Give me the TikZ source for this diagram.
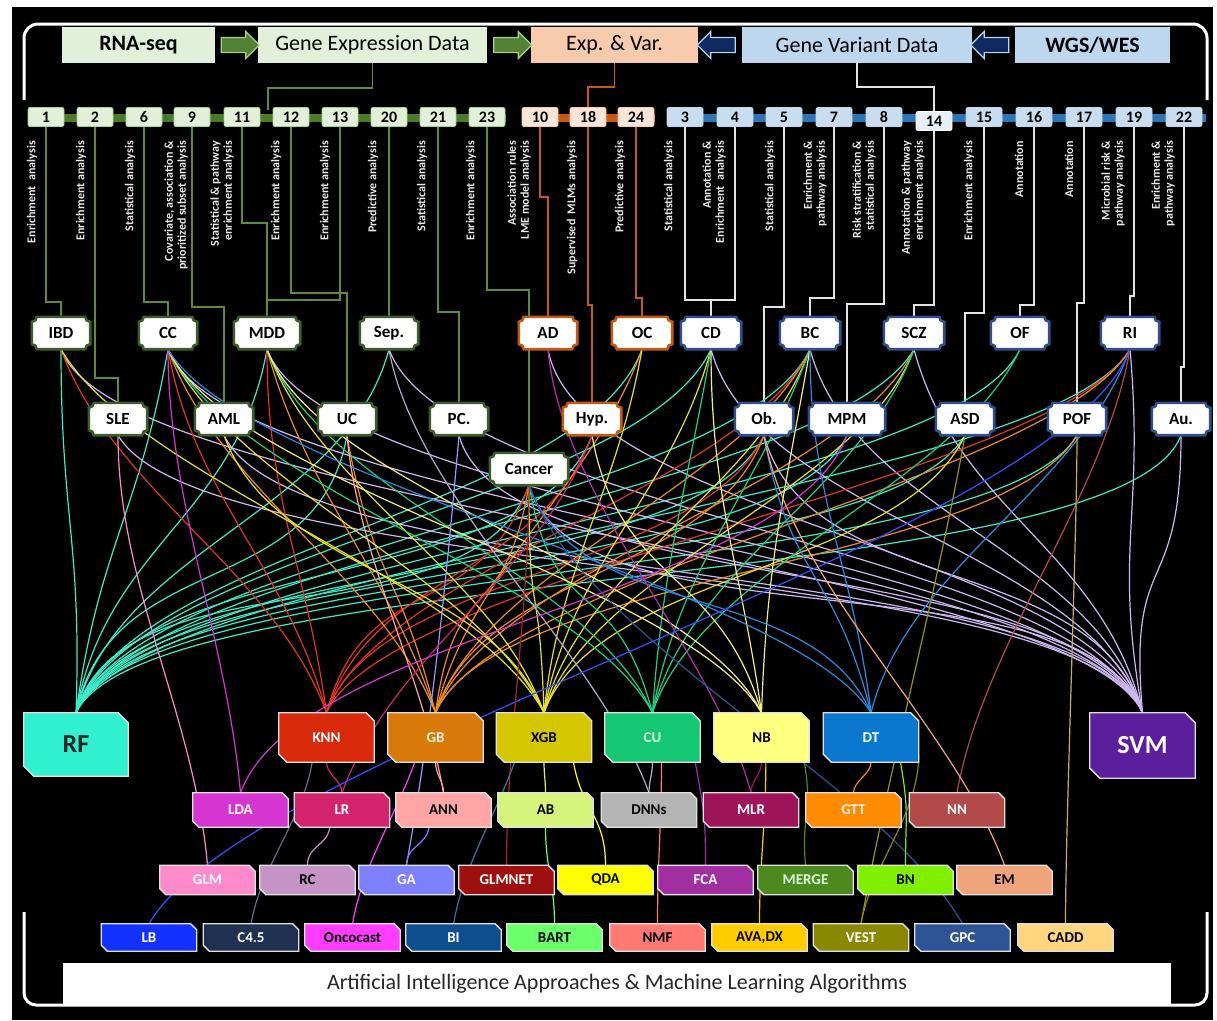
\documentclass[tikz,border=0pt]{standalone}
\usepackage{fontspec}
\setmainfont{Carlito}
\usetikzlibrary{shapes.arrows,calc}
\pgfdeclarelayer{bgl}\pgfdeclarelayer{lnl}\pgfdeclarelayer{shl}
\pgfsetlayers{bgl,lnl,shl,main}
% header / group colours
\definecolor{cGfill}{HTML}{E2F0D9}
\definecolor{cOfill}{HTML}{F8CBAD}
\definecolor{cBfill}{HTML}{BDD7EE}
\definecolor{cGnum}{HTML}{E2F0D9}
\definecolor{cOnum}{HTML}{FBE5D6}
\definecolor{cBnum}{HTML}{C9DDF0}
\definecolor{cGbar}{HTML}{4A7A2A}
\definecolor{cObar}{HTML}{C55A11}
\definecolor{cBbar}{HTML}{2E75B6}
\definecolor{cGA}{HTML}{548235}
\definecolor{cGAl}{HTML}{A9D18E}
\definecolor{cNA}{HTML}{0F2A60}
\definecolor{cNAl}{HTML}{BDD7EE}
\definecolor{cGL}{HTML}{5E8C3A}
\definecolor{cOL}{HTML}{C55A11}
\definecolor{cWL}{HTML}{E4E4E4}
\definecolor{cPG}{HTML}{3B5E2B}
\definecolor{cPO}{HTML}{C55A11}
\definecolor{cPB}{HTML}{2F4F8F}
% curve colours
\definecolor{crf}{HTML}{3DEBC8}
\definecolor{csvm}{HTML}{CDB8F0}
\definecolor{cknn}{HTML}{E3351F}
\definecolor{cgb}{HTML}{EE8A25}
\definecolor{cxgb}{HTML}{E8E030}
\definecolor{ccu}{HTML}{1FD080}
\definecolor{cnb}{HTML}{F5EE80}
\definecolor{cdt}{HTML}{2A8BE0}
% algorithm fills
\definecolor{fRF}{HTML}{30F0D0}
\definecolor{fKNN}{HTML}{DA2A0C}
\definecolor{fGB}{HTML}{D8790A}
\definecolor{fXGB}{HTML}{D4C700}
\definecolor{fCU}{HTML}{14C873}
\definecolor{fNB}{HTML}{FFFF80}
\definecolor{fDT}{HTML}{0B78D0}
\definecolor{fSVM}{HTML}{5B1E9C}
\definecolor{fLDA}{HTML}{D535D0}
\definecolor{fLR}{HTML}{D4246E}
\definecolor{fANN}{HTML}{FFA5A5}
\definecolor{fAB}{HTML}{D6F47C}
\definecolor{fDNN}{HTML}{B4B4B4}
\definecolor{fMLR}{HTML}{9E1458}
\definecolor{fGTT}{HTML}{FF8C00}
\definecolor{fNN}{HTML}{B24A4A}
\definecolor{fGLM}{HTML}{FF8ACB}
\definecolor{fRC}{HTML}{C593C5}
\definecolor{fGA}{HTML}{7F80FF}
\definecolor{fGLMNET}{HTML}{9E1010}
\definecolor{fQDA}{HTML}{FFFF00}
\definecolor{fFCA}{HTML}{A22FA2}
\definecolor{fMERGE}{HTML}{4C8A1F}
\definecolor{fBN}{HTML}{80F000}
\definecolor{fEM}{HTML}{F0A47C}
\definecolor{fLB}{HTML}{1432FF}
\definecolor{fC45}{HTML}{1F3050}
\definecolor{fOnco}{HTML}{FF3DFF}
\definecolor{fBI}{HTML}{0C4E8E}
\definecolor{fBART}{HTML}{6CFF6C}
\definecolor{fNMF}{HTML}{FF7A72}
\definecolor{fAVA}{HTML}{FFCC00}
\definecolor{fVEST}{HTML}{8A8700}
\definecolor{fGPC}{HTML}{2F5496}
\definecolor{fCADD}{HTML}{FFD580}
\tikzset{
 hdr/.style={inner sep=0pt, minimum height=36pt, text=black, font=\fontsize{22}{24}\selectfont},
 numbox/.style={rounded corners=2pt, minimum width=36pt, minimum height=19pt, inner sep=0pt, font=\bfseries\fontsize{16}{17}\selectfont, line width=0.8pt, text=black},
 lbl/.style={rotate=90, anchor=east, align=right, text=white!92!black, inner sep=0pt, font=\bfseries\fontsize{12}{13}\selectfont},
 plqtxt/.style={inner sep=0pt, minimum height=32pt, text=black, font=\bfseries\fontsize{17}{18}\selectfont},
 plqedge/.style={fill=white, line width=2.6pt},
 algtxt/.style={inner sep=0pt, font=\bfseries\fontsize{15}{16}\selectfont},
 algedge/.style={draw=white!88!black, line width=1.3pt},
 gline/.style={draw=cGL, line width=1.5pt},
 oline/.style={draw=cOL, line width=1.5pt},
 wline/.style={draw=cWL, line width=1.5pt},
 cv/.style={line width=1.2pt},
 brk/.style={draw=white, line width=3pt},
 barline/.style={line width=8pt},
 blockarrow/.style={single arrow, line width=1.2pt, minimum height=38pt, inner sep=7pt, single arrow head extend=6pt},
}
\def\chmf{7pt}
\newcommand\alg[8]{%
 \node[algtxt,text=#7,minimum width=#4pt,minimum height=#5pt] (#1) at (#2,#3) {#8};
 \begin{pgfonlayer}{shl}
 \draw[algedge,fill=#6] (#1.north west) -- ([xshift=-\chmf]#1.north east) -- ([yshift=-\chmf]#1.north east) -- (#1.south east) -- ([xshift=\chmf]#1.south west) -- ([yshift=\chmf]#1.south west) -- cycle;
 \end{pgfonlayer}}
\newcommand\plq[6]{%
 \node[plqtxt,minimum width=#4pt] (#1) at (#2,#3) {#6};
 \begin{pgfonlayer}{shl}
 \draw[plqedge,draw=#5] ([xshift=5pt]#1.north west) -- ([xshift=-5pt]#1.north east) arc[start angle=180,end angle=270,radius=5pt] -- ([yshift=5pt]#1.south east) arc[start angle=90,end angle=180,radius=5pt] -- ([xshift=5pt]#1.south west) arc[start angle=0,end angle=90,radius=5pt] -- ([yshift=-5pt]#1.north west) arc[start angle=270,end angle=360,radius=5pt] -- cycle;
 \end{pgfonlayer}}
% curve: colour, start anchor, out angle, in angle, end anchor, control distance
\newcommand\cl[6]{\draw[cv,draw=#1] (#2) .. controls ([shift={(#3:#6)}]#2) and ([shift={(#4:#6)}]#5) .. (#5);}
\begin{document}
\begin{tikzpicture}[x=1pt,y=-1pt]
\useasboundingbox (0,0) rectangle (1217,1020);
\begin{pgfonlayer}{bgl}
\fill[white] (0,0) rectangle (1217,1020);
\fill[black] (12,7) rectangle (1213,1020);
\end{pgfonlayer}
% brackets
\draw[brk, rounded corners=14pt] (24,100) -- (24,24) -- (1207,24) -- (1207,100);
\draw[brk, rounded corners=12pt] (24,912) -- (24,1005) -- (1207,1005) -- (1207,912);
% header
\node[hdr, fill=cGfill, minimum width=153pt] (rna) at (138.5,45) {\bfseries RNA-seq};
\node[hdr, fill=cGfill, minimum width=229pt] (ged) at (372.5,45) {Gene Expression Data};
\node[hdr, fill=cOfill, minimum width=167pt] (ev) at (614.5,45) {Exp. \& Var.};
\node[hdr, fill=cBfill, minimum width=230pt] (gvd) at (857,45) {Gene Variant Data};
\node[hdr, fill=cBfill, minimum width=155pt] (wgs) at (1092.5,45) {\bfseries WGS/WES};
\node[blockarrow, fill=cGA, draw=cGAl] (a1) at (236.5,45) {};
\node[blockarrow, fill=cGA, draw=cGAl] (a2) at (509,45) {};
\node[blockarrow, fill=cNA, draw=cNAl, shape border rotate=180] (a3) at (720,45) {};
\node[blockarrow, fill=cNA, draw=cNAl, shape border rotate=180] (a4) at (993.5,45) {};
% bars
\begin{pgfonlayer}{lnl}
\draw[barline, cGbar] (28,118) -- (506,118);
\draw[barline, cObar] (522,118) -- (655,118);
\draw[barline, cBbar] (667,118) -- (1206,118);
\end{pgfonlayer}
% number boxes + labels
\foreach \n/\x/\t/\d in {1/46/{Enrichment\ \ analysis}/14, 2/95/{Enrichment analysis}/14, 6/144/{Statistical analysis}/14, 9/192/{Covariate, association \&\\prioritized subset analysis}/16, 11/242/{Statistical \& pathway\\enrichment analysis}/20, 12/291/{Enrichment analysis}/15, 13/340/{Enrichment analysis}/15, 20/389/{Predictive analysis}/16, 21/438/{Statistical analysis}/16, 23/487/{Enrichment analysis}/16}{
 \node[numbox, fill=cGnum, draw=cGAl] (n\n) at (\x,117) {\n};
 \node[lbl] (l\n) at ({\x-\d},141) {\t};
}
\foreach \n/\x/\t/\d in {10/540/{Association rules\\LME model analysis}/21, 18/588/{Supervised\ \ MLMs analysis}/16, 24/636/{Predictive analysis}/16}{
 \node[numbox, fill=cOnum, draw=cOfill] (n\n) at (\x,117) {\n};
 \node[lbl] (l\n) at ({\x-\d},141) {\t};
}
\foreach \n/\x/\t/\d in {3/685/{Statistical analysis}/16, 4/735/{Annotation \&\\Enrichment\ \ analysis}/21, 5/784/{Statistical analysis}/14, 7/834/{Enrichment \&\\pathway analysis}/19, 8/884/{Risk stratification \&\\statistical analysis}/20, 15/984/{Enrichment analysis}/15, 16/1034/{Annotation}/15, 17/1084/{Annotation}/15, 19/1134/{Microbial risk \&\\pathway analysis}/21, 22/1184/{Enrichment \&\\pathway analysis}/21}{
 \node[numbox, fill=cBnum, draw=cBfill] (n\n) at (\x,117) {\n};
 \node[lbl] (l\n) at ({\x-\d},141) {\t};
}
\node[numbox, fill=white!55!cBnum, draw=white] (n14) at (934,121) {14};
\node[lbl] (l14) at (913,141) {Annotation \& pathway\\enrichment analysis};
% diseases
\plq{IBD}{61}{333}{58}{cPG}{IBD}
\plq{CC}{168}{333}{58}{cPG}{CC}
\plq{MDD}{267}{333}{66}{cPG}{MDD}
\plq{Sep}{389}{333}{58}{cPG}{Sep.}
\plq{AD}{548}{333}{58}{cPO}{AD}
\plq{OC}{642}{333}{60}{cPO}{OC}
\plq{CD}{711}{333}{60}{cPB}{CD}
\plq{BC}{810}{333}{60}{cPB}{BC}
\plq{SCZ}{914}{333}{60}{cPB}{SCZ}
\plq{OF}{1020}{333}{58}{cPB}{OF}
\plq{RI}{1130}{333}{58}{cPB}{RI}
\plq{SLE}{118}{419}{58}{cPG}{SLE}
\plq{AML}{224}{419}{58}{cPG}{AML}
\plq{UC}{347}{419}{58}{cPG}{UC}
\plq{PC}{459}{419}{58}{cPG}{PC.}
\plq{Hyp}{592}{419}{58}{cPO}{Hyp.}
\plq{Ob}{764}{419}{58}{cPB}{Ob.}
\plq{MPM}{847}{419}{76}{cPB}{MPM}
\plq{ASD}{965}{419}{58}{cPB}{ASD}
\plq{POF}{1077}{419}{58}{cPB}{POF}
\plq{Au}{1181}{419}{58}{cPB}{Au.}
\plq{Cancer}{529}{469}{78}{cPG}{Cancer}
% algorithms
\def\chmf{10pt}
\alg{RF}{76}{744.5}{104}{63}{fRF}{black!85}{\fontsize{26}{28}\selectfont RF}
\alg{SVM}{1142.5}{745.5}{105}{65}{fSVM}{white}{\fontsize{26}{28}\selectfont SVM}
\def\chmf{8pt}
\alg{KNN}{326.5}{737.5}{95}{49}{fKNN}{white}{KNN}
\alg{GB}{435.5}{737.5}{95}{49}{fGB}{white!90!orange}{GB}
\alg{XGB}{544}{737.5}{95}{49}{fXGB}{black}{XGB}
\alg{CU}{652.5}{737.5}{95}{49}{fCU}{white!90!green}{CU}
\alg{NB}{761.5}{737.5}{95}{49}{fNB}{black}{NB}
\alg{DT}{871}{737.5}{95}{49}{fDT}{white}{DT}
\def\chmf{6pt}
\alg{LDA}{240.5}{810}{95}{34}{fLDA}{white}{LDA}
\alg{LR}{342}{810}{95}{34}{fLR}{white}{LR}
\alg{ANN}{443.5}{810}{95}{34}{fANN}{black}{ANN}
\alg{AB}{545.5}{810}{95}{34}{fAB}{black}{AB}
\alg{DNNs}{649}{810}{95}{34}{fDNN}{black}{DNNs}
\alg{MLR}{751}{810}{95}{34}{fMLR}{white}{MLR}
\alg{GTT}{853.5}{810}{95}{34}{fGTT}{white!90!orange}{GTT}
\alg{NN}{957}{810}{95}{34}{fNN}{white}{NN}
\alg{GLM}{207.5}{880}{95}{29}{fGLM}{white}{GLM}
\alg{RC}{307.5}{880}{95}{29}{fRC}{black}{RC}
\alg{GA}{406.5}{880}{95}{29}{fGA}{white}{GA}
\alg{GLMNET}{506.5}{880}{95}{29}{fGLMNET}{white}{GLMNET}
\alg{QDA}{605.5}{880}{95}{29}{fQDA}{black}{QDA}
\alg{FCA}{705.5}{880}{95}{29}{fFCA}{white}{FCA}
\alg{MERGE}{805.5}{880}{95}{29}{fMERGE}{white!85!green}{MERGE}
\alg{BN}{905.5}{880}{95}{29}{fBN}{black}{BN}
\alg{EM}{1004.5}{880}{95}{29}{fEM}{black}{EM}
\alg{LB}{149}{937.5}{95}{27}{fLB}{white}{LB}
\alg{C45}{251}{937.5}{95}{27}{fC45}{white}{C4.5}
\alg{Onco}{352.5}{937.5}{95}{27}{fOnco}{black}{Oncocast}
\alg{BI}{453.5}{937.5}{95}{27}{fBI}{white}{BI}
\alg{BART}{554.5}{937.5}{95}{27}{fBART}{black}{BART}
\alg{NMF}{657.5}{937.5}{95}{27}{fNMF}{black}{NMF}
\alg{AVA}{759.5}{937.5}{95}{27}{fAVA}{black}{AVA,DX}
\alg{VEST}{861}{937.5}{95}{27}{fVEST}{white}{VEST}
\alg{GPC}{962.5}{937.5}{95}{27}{fGPC}{white}{GPC}
\alg{CADD}{1065.5}{937.5}{95}{27}{fCADD}{black}{CADD}
% bottom label
\node[fill=white, minimum width=1108pt, minimum height=41pt, inner sep=0pt, text=black!85, font=\fontsize{22}{24}\selectfont] (ai) at (617,983.5) {Artificial Intelligence Approaches \& Machine Learning Algorithms};
% connectors
\begin{pgfonlayer}{lnl}
\coordinate (gj) at (268,110);
\draw[gline] (ged.south) -- ++(0,25) -| (gj);
\draw[oline] (ev.south) -- ++(0,24) -| (n18.north);
\draw[wline] (gvd.south) -- ++(0,24) -| (n14.north);
\draw[gline] (n1.south) |- (61,302) -- (IBD.north);
\draw[gline] (n2.south) |- (118,378) -- (SLE.north);
\draw[gline] (n6.south) |- (168,302) -- (CC.north);
\draw[gline] (n9.south) |- (224,307) -- (AML.north);
\draw[gline] (n11.south) |- (267,223) -- (MDD.north);
\draw[gline] (n12.south) |- (347,293) -- (UC.north);
\draw[gline] (n13.south) |- (267,300);
\draw[gline] (n20.south) -- (Sep.north);
\draw[gline] (n21.south) |- (459,312) -- (PC.north);
\draw[gline] (n23.south) |- (529,290) -- (Cancer.north);
\draw[oline] (n10.south) |- (548,197) -- (AD.north);
\draw[oline] (n18.south) |- (592,305) -- (Hyp.north);
\draw[oline] (n24.south) |- (642,298) -- (OC.north);
\draw[wline] (n3.south) |- (711,300) -- (CD.north);
\draw[wline] (n4.south) |- (711,300);
\draw[wline] (n5.south) |- (764,307) -- (Ob.north);
\draw[wline] (n7.south) |- (810,298) -- (BC.north);
\draw[wline] (n8.south) |- (847,304) -- (MPM.north);
\draw[wline] (n14.south) |- (914,305) -- (SCZ.north);
\draw[wline] (n15.south) |- (965,313) -- (ASD.north);
\draw[wline] (n16.south) |- (1020,305) -- (OF.north);
\draw[wline] (n17.south) |- (1077,303) -- (POF.north);
\draw[wline] (n19.south) |- (1130,296) -- (RI.north);
\draw[wline] (n22.south) |- (1181,367) -- (Au.north);
% disease -> algorithm curves
\foreach \src/\ou/\iu in {IBD/-90/88, CC/-100/82, MDD/-100/80, UC/-100/78, Sep/-105/76, Cancer/-110/74, Hyp/-110/73, OC/-110/72, CD/-115/71, Ob/-115/70, BC/-115/70, MPM/-115/69, SCZ/-120/68, OF/-115/68, ASD/-120/67, POF/-120/66, RI/-120/65, Au/-110/64}
 {\cl{crf}{\src.south}{\ou}{\iu}{RF.north}{170pt}}
\foreach \src/\ou/\iu in {IBD/-70/115, SLE/-60/113, CC/-70/112, AML/-65/112, MDD/-70/111, Sep/-70/110, PC/-75/110, Cancer/-75/109, AD/-80/108, CD/-75/108, Ob/-75/107, BC/-75/106, SCZ/-75/104, RI/-85/100, Au/-90/95}
 {\cl{csvm}{\src.south}{\ou}{\iu}{SVM.north}{170pt}}
\foreach \src/\ou/\iu in {IBD/-70/110, CC/-80/105, MDD/-90/98, Cancer/-110/75, Hyp/-110/72, Ob/-115/70, BC/-115/70, RI/-120/66}
 {\cl{cknn}{\src.south}{\ou}{\iu}{KNN.north}{150pt}}
\foreach \src/\ou/\iu in {CC/-70/112, MDD/-75/108, UC/-80/104, Cancer/-100/82, OC/-110/76, BC/-115/72, Ob/-110/72, SCZ/-115/70, POF/-120/67, RI/-120/66}
 {\cl{cgb}{\src.south}{\ou}{\iu}{GB.north}{150pt}}
\foreach \src/\ou/\iu in {IBD/-60/118, CC/-65/115, AML/-70/112, MDD/-70/110, Cancer/-90/92, OC/-100/84, CD/-105/80, BC/-110/76, SCZ/-110/72, ASD/-115/70}
 {\cl{cxgb}{\src.south}{\ou}{\iu}{XGB.north}{150pt}}
\foreach \src/\ou/\iu in {CC/-65/118, MDD/-70/114, Cancer/-80/105, CD/-100/86, BC/-110/80, SCZ/-110/76, OF/-115/72}
 {\cl{ccu}{\src.south}{\ou}{\iu}{CU.north}{150pt}}
\foreach \src/\ou/\iu in {CC/-65/120, MDD/-70/116, Hyp/-80/106, CD/-90/98, BC/-100/88}
 {\cl{cnb}{\src.south}{\ou}{\iu}{NB.north}{150pt}}
\foreach \src/\ou/\iu in {CC/-60/122, Cancer/-70/114, Ob/-80/104, BC/-90/97, RI/-110/76}
 {\cl{cdt}{\src.south}{\ou}{\iu}{DT.north}{150pt}}
% other disease links
\cl{fGLM}{SLE.south}{-90}{95}{GLM.north}{150pt}
\cl{fLDA}{CC.south}{-90}{95}{LDA.north}{150pt}
\cl{fANN}{UC.south}{-85}{100}{ANN.north}{120pt}
\cl{fGA!80!white}{PC.south}{-95}{80}{GA.north}{150pt}
\cl{csvm!70!gray}{Sep.south}{-80}{110}{DNNs.north}{150pt}
\cl{fLDA!85!black}{AD.south}{-85}{105}{MLR.north}{150pt}
\cl{fLR}{Hyp.south}{-110}{70}{LR.north}{150pt}
\cl{fLDA}{MPM.south}{-110}{70}{LDA.north}{170pt}
\cl{fNN}{RI.south}{-100}{80}{NN.north}{150pt}
\cl{fLB!85!white}{RI.south}{-110}{60}{LB.north}{200pt}
\cl{fCADD!80!black}{POF.south}{-90}{90}{CADD.north}{100pt}
\cl{fEM}{Ob.south}{-80}{110}{EM.north}{150pt}
\cl{fVEST!90!white}{ASD.south}{-100}{80}{VEST.north}{150pt}
\cl{fGLMNET!90!white}{Cancer.south}{-90}{90}{GLMNET.north}{120pt}
\cl{fGPC}{Cancer.south}{-70}{120}{GPC.north}{170pt}
% algorithm -> algorithm links
\cl{fLR}{KNN.south}{-90}{90}{LR.north}{12pt}
\cl{fC45!70!white}{KNN.-120}{-100}{80}{C45.north}{60pt}
\cl{fANN}{GB.south}{-90}{90}{ANN.north}{12pt}
\cl{fOnco}{GB.-130}{-110}{80}{Onco.north}{60pt}
\cl{fGA}{ANN.-130}{-100}{90}{GA.north}{20pt}
\cl{fRC}{LR.-125}{-100}{90}{RC.north}{20pt}
\cl{fAB}{XGB.south}{-90}{90}{AB.north}{12pt}
\cl{fQDA}{XGB.-40}{-80}{90}{QDA.north}{50pt}
\cl{fBI!80!white}{XGB.-140}{-110}{80}{BI.north}{60pt}
\cl{fBART}{AB.south}{-90}{90}{BART.north}{40pt}
\cl{fDNN}{CU.south}{-90}{90}{DNNs.north}{12pt}
\cl{fNMF}{CU.-70}{-90}{90}{NMF.north}{60pt}
\cl{fFCA}{CU.-30}{-80}{90}{FCA.north}{50pt}
\cl{fMLR}{NB.south}{-90}{90}{MLR.north}{12pt}
\cl{fAVA}{NB.-80}{-90}{90}{AVA.north}{60pt}
\cl{fMERGE}{NB.-30}{-80}{95}{MERGE.north}{50pt}
\cl{fGTT}{DT.south}{-90}{90}{GTT.north}{12pt}
\cl{fBN}{DT.-40}{-80}{90}{BN.north}{50pt}
\cl{fVEST}{DT.-20}{-90}{80}{VEST.north}{60pt}
\end{pgfonlayer}
\end{tikzpicture}
\end{document}
